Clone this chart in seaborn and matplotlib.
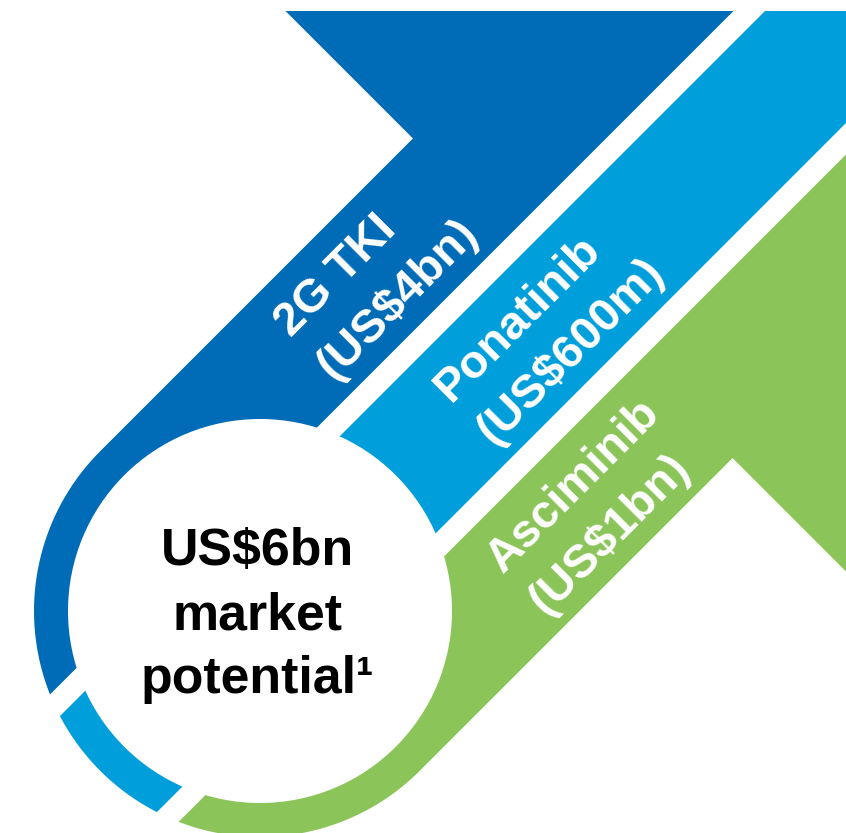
import numpy as np
import matplotlib
matplotlib.use("Agg")
import matplotlib.pyplot as plt
from matplotlib.path import Path
from matplotlib.patches import PathPatch, Polygon, Circle
import seaborn as sns

# Market segments and their estimated size (US$ millions)
segments = ["2G TKI", "Ponatinib", "Asciminib"]
market_size_musd = [4000, 600, 1000]
segment_colors = ["#006BB6", "#009FDB", "#8BC55A"]
total_lines = ["US$6bn", "market", "potential\u00b9"]


def fmt_size(m):
    return f"(US${m / 1000:g}bn)" if m >= 1000 else f"(US${m:g}m)"


sns.set_theme(style="white")
plt.rcParams["font.family"] = ["Liberation Sans", "DejaVu Sans"]

W, H = 846, 833
fig = plt.figure(figsize=(W / 100, H / 100), dpi=100)
ax = fig.add_axes([0, 0, 1, 1])
ax.set_xlim(0, W)
ax.set_ylim(H, 0)
ax.set_aspect("equal")
ax.axis("off")

# Ring geometry (s = x + y is constant along the diagonal bands)
cx, cy = 260.0, 611.0
r_out, r_in = 226.0, 192.0
rt2 = np.sqrt(2.0)
s0 = cx + cy
s_lo, s_hi = s0 - r_out * rt2, s0 + r_out * rt2
head = -274.5          # arrowhead cut line: y - x = head
y_top = 11.0
x_far = W + 80

band_mid = s0 + 1.5
half_w = 96.5
gap = 31.5
band_s = [(-1e4, band_mid - half_w - gap),
          (band_mid - half_w, band_mid + half_w),
          (band_mid + half_w + gap, 1e4)]

# Outline: arrowhead + diagonal strip + outer disc
A = (y_top - head, y_top)
B = ((s_hi - head) / 2, (s_hi + head) / 2)
C = ((s_lo - head) / 2, (s_lo + head) / 2)
theta = np.linspace(np.pi / 4, 5 * np.pi / 4, 300)
arc = np.column_stack([cx + r_out * np.cos(theta), cy + r_out * np.sin(theta)])
verts = np.vstack([[A, (x_far, y_top), (x_far, x_far + head), B], arc, [C, A]])
outline = PathPatch(Path(verts), facecolor="none", edgecolor="none",
                    transform=ax.transData)
ax.add_patch(outline)

for (a, b), col in zip(band_s, segment_colors):
    a = max(a, -2000)
    b = min(b, 4000)
    strip = Polygon([(a + 300, -300), (a - 1300, 1300), (b - 1300, 1300), (b + 300, -300)],
                    closed=True, facecolor=col, edgecolor="none", zorder=1)
    ax.add_patch(strip)
    strip.set_clip_path(outline)

ax.add_patch(Circle((cx, cy), r_in, facecolor="white", edgecolor="none", zorder=3))

# Band labels, written along the diagonal
band_centres = [(s_lo + band_s[0][1]) / 2,
                (band_s[1][0] + band_s[1][1]) / 2,
                (band_s[2][0] + s_hi) / 2]
u_start = [-33.0, 34.0, -50.0]
label_fs = 33.8


def uv_to_xy(u, v):
    return (u + v) / rt2, (v - u) / rt2


for name, size, sc, us in zip(segments, market_size_musd, band_centres, u_start):
    vc = sc / rt2
    for txt, dv in [(name, -13.0), (fmt_size(size), 47.0)]:
        x, y = uv_to_xy(us, vc + dv)
        ax.text(x, y, txt, rotation=45, rotation_mode="anchor", ha="left",
                va="baseline", color="white", fontsize=label_fs,
                fontweight="bold", zorder=5)

# Centre caption
for txt, yb in zip(total_lines, [565, 629, 693]):
    ax.text(257, yb, txt, ha="center", va="baseline", color="black",
            fontsize=37.4, fontweight="bold", zorder=5)

fig.savefig("out.png", dpi=100, facecolor="white")
